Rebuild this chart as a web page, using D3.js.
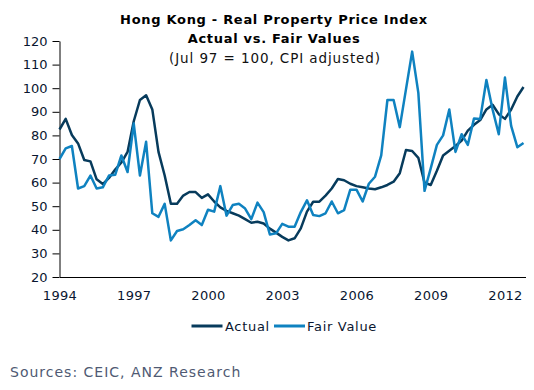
<!DOCTYPE html>
<html>
<head>
<meta charset="utf-8">
<script src="https://cdn.jsdelivr.net/npm/d3@7"></script>
<style>
  html, body { margin: 0; padding: 0; background: #fff; }
  svg { display: block; font-family: "DejaVu Sans", Verdana, sans-serif; }
</style>
</head>
<body>
<svg id="chart" width="534" height="390"></svg>
<script>
// ---- data (quarterly, 1994Q1 .. 2012Q4) ----
const startYear = 1994;
const yearTicks = [1994, 1997, 2000, 2003, 2006, 2009, 2012];
const yTicks = [20, 30, 40, 50, 60, 70, 80, 90, 100, 110, 120];
const seriesNames = ["Actual", "Fair Value"];
const actual = [
  82.5, 87, 80.2, 76.6, 69.6, 69, 61.4, 59.4, 62, 65.5, 68.5, 73,
  86, 95, 97, 91, 73, 63, 51, 51, 54.5, 56, 56, 53.5,
  55, 52, 49.5, 48, 47, 46, 44.5, 43, 43.4, 42.7, 40.5, 38.8,
  37, 35.5, 36.4, 40.6, 47.7, 51.9, 51.9, 54.5, 57.5, 61.5, 61, 59.5,
  58.5, 58, 57.5, 57.2, 58, 59, 60.4, 64, 73.8, 73.4, 70.5, 60,
  59, 65, 71.5, 73.5, 75.5, 77.8, 82, 84.5, 86.5, 91, 93, 89,
  87, 91, 96.5, 100.5
];
const fairValue = [
  70, 74.5, 75.5, 57.5, 58.5, 63, 57.5, 58, 63, 63.3, 71.5, 64.5,
  85, 63, 77.3, 47, 45.5, 51, 35.5, 39.5, 40.2, 42, 44, 42,
  48.5, 47.7, 58.5, 46, 50.5, 51, 49, 44.5, 51.5, 47.5, 38, 38.5,
  42.5, 41.3, 41.3, 47.5, 52.5, 46.3, 45.8, 47, 52, 47, 48.3, 57,
  57, 52, 59.5, 62.5, 71.5, 95, 95, 83.5, 99.5, 115.5, 98, 56.5,
  66, 76, 80, 91, 73, 80.5, 76, 87.2, 87, 103.5, 91, 80.5,
  104.5, 84, 75, 76.8
];

const colors = ["#073b5c", "#0f82c0"];

const svg = d3.select("#chart");

const x = d3.scaleLinear().domain([1994, 2012.83]).range([59.5, 525.5]);
const y = d3.scaleLinear().domain([20, 120]).range([277, 41]);

// Titles
svg.append("text").attr("x", 274).attr("y", 24).attr("text-anchor", "middle")
  .attr("font-size", 13).attr("font-weight", "bold").attr("fill", "#000")
  .attr("letter-spacing", 0.7)
  .text("Hong Kong - Real Property Price Index");
svg.append("text").attr("x", 274).attr("y", 43).attr("text-anchor", "middle")
  .attr("font-size", 13).attr("font-weight", "bold").attr("fill", "#000")
  .attr("letter-spacing", 0.7)
  .text("Actual vs. Fair Values");
svg.append("text").attr("x", 275).attr("y", 63).attr("text-anchor", "middle")
  .attr("font-size", 13.5).attr("fill", "#111")
  .attr("letter-spacing", 0.9)
  .text("(Jul 97 = 100, CPI adjusted)");

// Y axis
const yAxis = svg.append("g").attr("transform", "translate(59.5,0)")
  .call(d3.axisLeft(y).tickValues(yTicks).tickSize(7).tickPadding(5).tickSizeOuter(0));
yAxis.selectAll("text").attr("font-size", 13).attr("fill", "#0a1630")
  .attr("font-family", "DejaVu Sans, Verdana, sans-serif");
yAxis.selectAll("line, path").attr("stroke", "#000");

// X axis
const xAxis = svg.append("g").attr("transform", "translate(0,277)")
  .call(d3.axisBottom(x).tickValues(yearTicks).tickFormat(d3.format("d"))
    .tickSize(0).tickPadding(14).tickSizeOuter(0));
xAxis.selectAll("text").attr("font-size", 13).attr("fill", "#0a1630")
  .attr("font-family", "DejaVu Sans, Verdana, sans-serif")
  .attr("letter-spacing", 0.3);
xAxis.select("path").attr("stroke", "#000");

// Lines
const line = d3.line()
  .x((d, i) => x(startYear + i / 4))
  .y(d => y(d));

[actual, fairValue].forEach((s, k) => {
  svg.append("path").datum(s)
    .attr("fill", "none")
    .attr("stroke", colors[k])
    .attr("stroke-width", 2.5)
    .attr("stroke-linejoin", "round")
    .attr("d", line);
});

// Legend
const legend = svg.append("g").attr("transform", "translate(0,326)");
const legendPos = [{lx: 191.5, tx: 225}, {lx: 274, tx: 307}];
seriesNames.forEach((name, k) => {
  legend.append("line").attr("x1", legendPos[k].lx).attr("x2", legendPos[k].lx + 31)
    .attr("y1", 0).attr("y2", 0).attr("stroke", colors[k]).attr("stroke-width", 3);
  legend.append("text").attr("x", legendPos[k].tx).attr("y", 5)
    .attr("font-size", 13).attr("fill", "#0a1630")
    .attr("letter-spacing", 0.7).text(name);
});

// Source
svg.append("text").attr("x", 10).attr("y", 377)
  .attr("font-size", 14).attr("fill", "#4f5a73")
  .attr("letter-spacing", 1)
  .text("Sources: CEIC, ANZ Research");
</script>
</body>
</html>
